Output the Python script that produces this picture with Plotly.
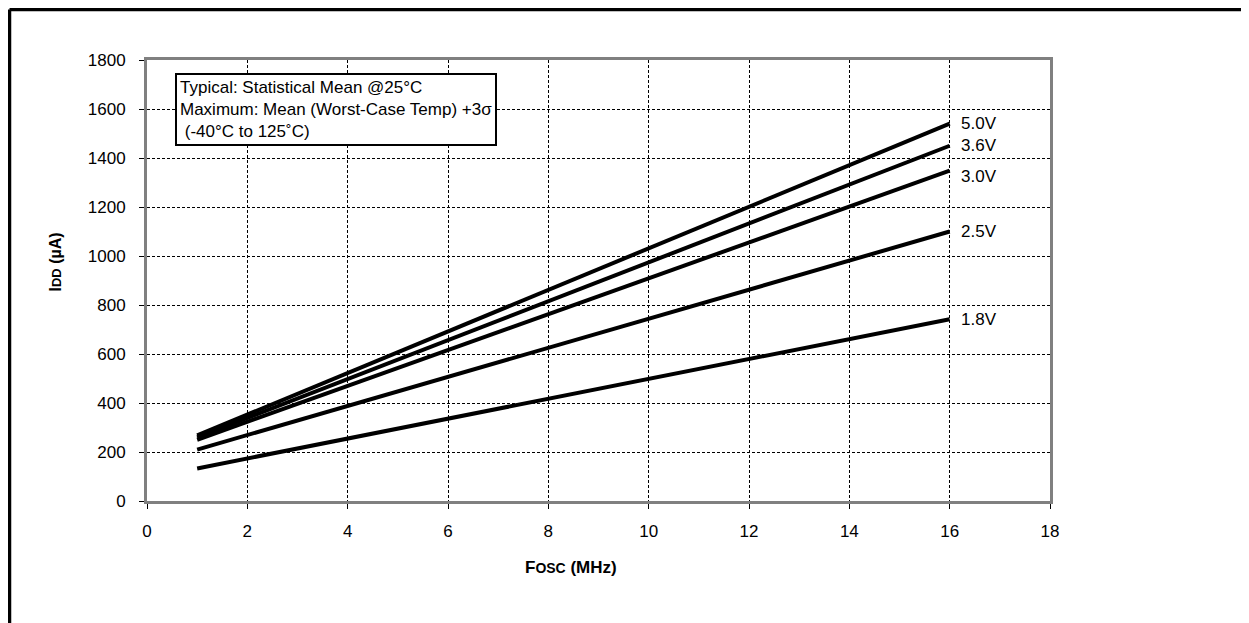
import plotly.graph_objects as go

# Data
fosc = [1, 16]
series_names = ["5.0V", "3.6V", "3.0V", "2.5V", "1.8V"]
idd_50 = [268, 1540]
idd_36 = [260, 1450]
idd_30 = [250, 1348]
idd_25 = [210, 1100]
idd_18 = [133, 742]
series_values = [idd_50, idd_36, idd_30, idd_25, idd_18]
label_yshift = [0, 0, -6, 0, 0]

x_ticks = [0, 2, 4, 6, 8, 10, 12, 14, 16, 18]
y_ticks = [0, 200, 400, 600, 800, 1000, 1200, 1400, 1600, 1800]

FONT = "Arial, Liberation Sans, sans-serif"

# plot area on screen: x 147..1050, y 60..501 (page has an 8px body margin)
PX0, PX1, PY0, PY1 = 147, 1050, 60, 501
PW, PH = PX1 - PX0, PY1 - PY0


def px(x):
    return (x - PX0) / PW


def py(y):
    return (PY1 - y) / PH


fig = go.Figure()
for name, vals in zip(series_names, series_values):
    fig.add_trace(go.Scatter(x=fosc, y=vals, mode="lines", name=name,
                             line=dict(color="black", width=4), showlegend=False))

for name, vals, ys in zip(series_names, series_values, label_yshift):
    fig.add_annotation(x=fosc[-1], y=vals[-1], xref="x", yref="y", text=name,
                       showarrow=False, xanchor="left", yanchor="middle",
                       xshift=9, yshift=ys, font=dict(family=FONT, size=17, color="black"))

# Note box
fig.add_annotation(x=px(175), y=py(73), xref="paper", yref="paper",
                   text="Typical: Statistical Mean @25°C<br>Maximum: Mean (Worst-Case Temp) +3σ<br>\u00a0(-40°C to 125˚C)",
                   showarrow=False, xanchor="left", yanchor="top", align="left",
                   bordercolor="black", borderwidth=2, borderpad=3, bgcolor="white",
                   font=dict(family=FONT, size=17, color="black"))

# Axis titles
fig.add_annotation(x=px(55), y=py(294), xref="paper", yref="paper",
                   text="I<span style='font-size:13px'>DD</span> (µA)", textangle=-90,
                   showarrow=False, xanchor="center", yanchor="bottom",
                   font=dict(family=FONT, size=16, color="black", weight="bold"))
fig.add_annotation(x=px(571), y=py(567), xref="paper", yref="paper",
                   text="F<span style='font-size:14px'>OSC</span> (MHz)",
                   showarrow=False, xanchor="center", yanchor="middle",
                   font=dict(family=FONT, size=17, color="black", weight="bold"))

# Outer frame (top and left only)
fig.add_shape(type="line", xref="paper", yref="paper",
              x0=px(9.5), x1=px(9.5), y0=-0.4, y1=py(9.5),
              line=dict(color="black", width=3.5))
fig.add_shape(type="line", xref="paper", yref="paper",
              x0=px(9.5), x1=1.3, y0=py(9.5), y1=py(9.5),
              line=dict(color="black", width=3.5))

axis_common = dict(showline=True, linecolor="#808080", linewidth=3, mirror=True,
                   showgrid=True, gridcolor="black", gridwidth=1, griddash="3px,2px",
                   ticks="outside", ticklen=5, tickcolor="black", tickwidth=1,
                   zeroline=False, tickfont=dict(family=FONT, size=17, color="black"))

fig.update_xaxes(range=[0, 18], tickvals=x_ticks, ticktext=[str(v) for v in x_ticks],
                 ticklabelstandoff=8, **axis_common)
fig.update_yaxes(range=[0, 1800], tickvals=y_ticks, ticktext=[str(v) for v in y_ticks],
                 ticklabelstandoff=10, **axis_common)

W, H = 1241, 615
L, T = PX0 - 8, PY0 - 8
fig.update_layout(width=W, height=H,
                  margin=dict(l=L, r=W - L - PW, t=T, b=H - T - PH, autoexpand=False),
                  paper_bgcolor="white", plot_bgcolor="white",
                  font=dict(family=FONT, color="black"))

fig.write_html("out.html")
